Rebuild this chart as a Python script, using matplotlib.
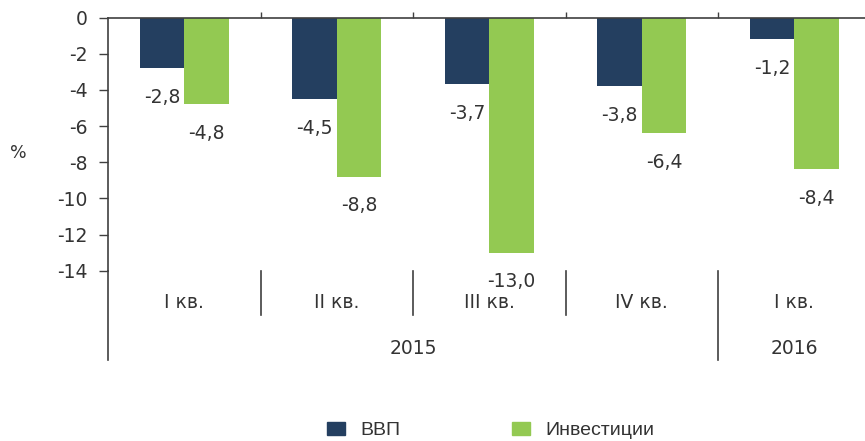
import numpy as np
import matplotlib.pyplot as plt
from matplotlib.patches import Patch

plt.rcParams['font.family'] = ['DejaVu Sans']
plt.rcParams['axes.unicode_minus'] = False

quarters = ['I кв.', 'II кв.', 'III кв.', 'IV кв.', 'I кв.']
years = ['2015', '2016']
year_span = [(0, 4), (4, 5)]
gdp = [-2.8, -4.5, -3.7, -3.8, -1.2]
invest = [-4.8, -8.8, -13.0, -6.4, -8.4]
series_names = ['ВВП', 'Инвестиции']

navy = '#243F60'
green = '#93C952'
txt = '#333333'
line = '#404040'
fs = 13.5

fig = plt.figure(figsize=(8.65, 4.41), dpi=100)
ax = fig.add_axes([108 / 865, 1 - 270.7 / 441, 762.5 / 865, 253.2 / 441])

x = np.arange(len(quarters)) + 0.5
w = 0.292
b1 = ax.bar(x - w / 2, gdp, w, color=navy)
b2 = ax.bar(x + w / 2, invest, w, color=green)

for bars in (b1, b2):
    for r in bars:
        v = r.get_height()
        ax.annotate(f'{v:.1f}'.replace('.', ','), (r.get_x() + r.get_width() / 2, v),
                    xytext=(0, -21), textcoords='offset points',
                    ha='center', va='center', fontsize=fs, color=txt)

ax.set_xlim(0, 5)
ax.set_ylim(-14, 0)
ax.set_yticks(np.arange(-14, 1, 2))
ax.tick_params(axis='y', direction='out', length=6.5, width=1, color=line,
               labelsize=fs, labelcolor=txt, pad=8)
ax.xaxis.tick_top()
ax.set_xticks([1, 2, 3, 4])
ax.tick_params(axis='x', direction='out', length=4, width=1, color=line, labeltop=False)

for s in ['right', 'bottom']:
    ax.spines[s].set_visible(False)
for s in ['top', 'left']:
    ax.spines[s].set_color(line)
    ax.spines[s].set_linewidth(1.2)

# category axis below the plot
px = 253.2 / 14
low_q = -14 - (315 - 270.7) / px
low_y = -14 - (360 - 270.7) / px
ax.plot([0, 0], [-14, low_y], color=line, lw=1.2, clip_on=False)
for k in [1, 2, 3]:
    ax.plot([k, k], [-14, low_q], color=line, lw=1.2, clip_on=False)
ax.plot([4, 4], [-14, low_y], color=line, lw=1.2, clip_on=False)

for xi, q in zip(x, quarters):
    ax.text(xi, -14 - (303 - 270.7) / px, q, ha='center', va='center',
            fontsize=fs, color=txt, clip_on=False)
for (a, b), yr in zip(year_span, years):
    ax.text((a + b) / 2, -14 - (349 - 270.7) / px, yr, ha='center', va='center',
            fontsize=fs, color=txt, clip_on=False)

fig.text(18 / 865, 1 - 153 / 441, '%', ha='center', va='center', fontsize=fs - 1, color=txt)

handles = [Patch(color=navy), Patch(color=green)]
fig.legend(handles, series_names, loc='center', bbox_to_anchor=(0.5676, 1 - 430.5 / 441),
           ncol=2, frameon=False, prop={'family': 'Liberation Sans', 'size': 14},
           handlelength=0.93, handleheight=0.67,
           handletextpad=0.78, columnspacing=5.75, borderpad=0, labelcolor=txt)

fig.savefig('out.png', dpi=100)
